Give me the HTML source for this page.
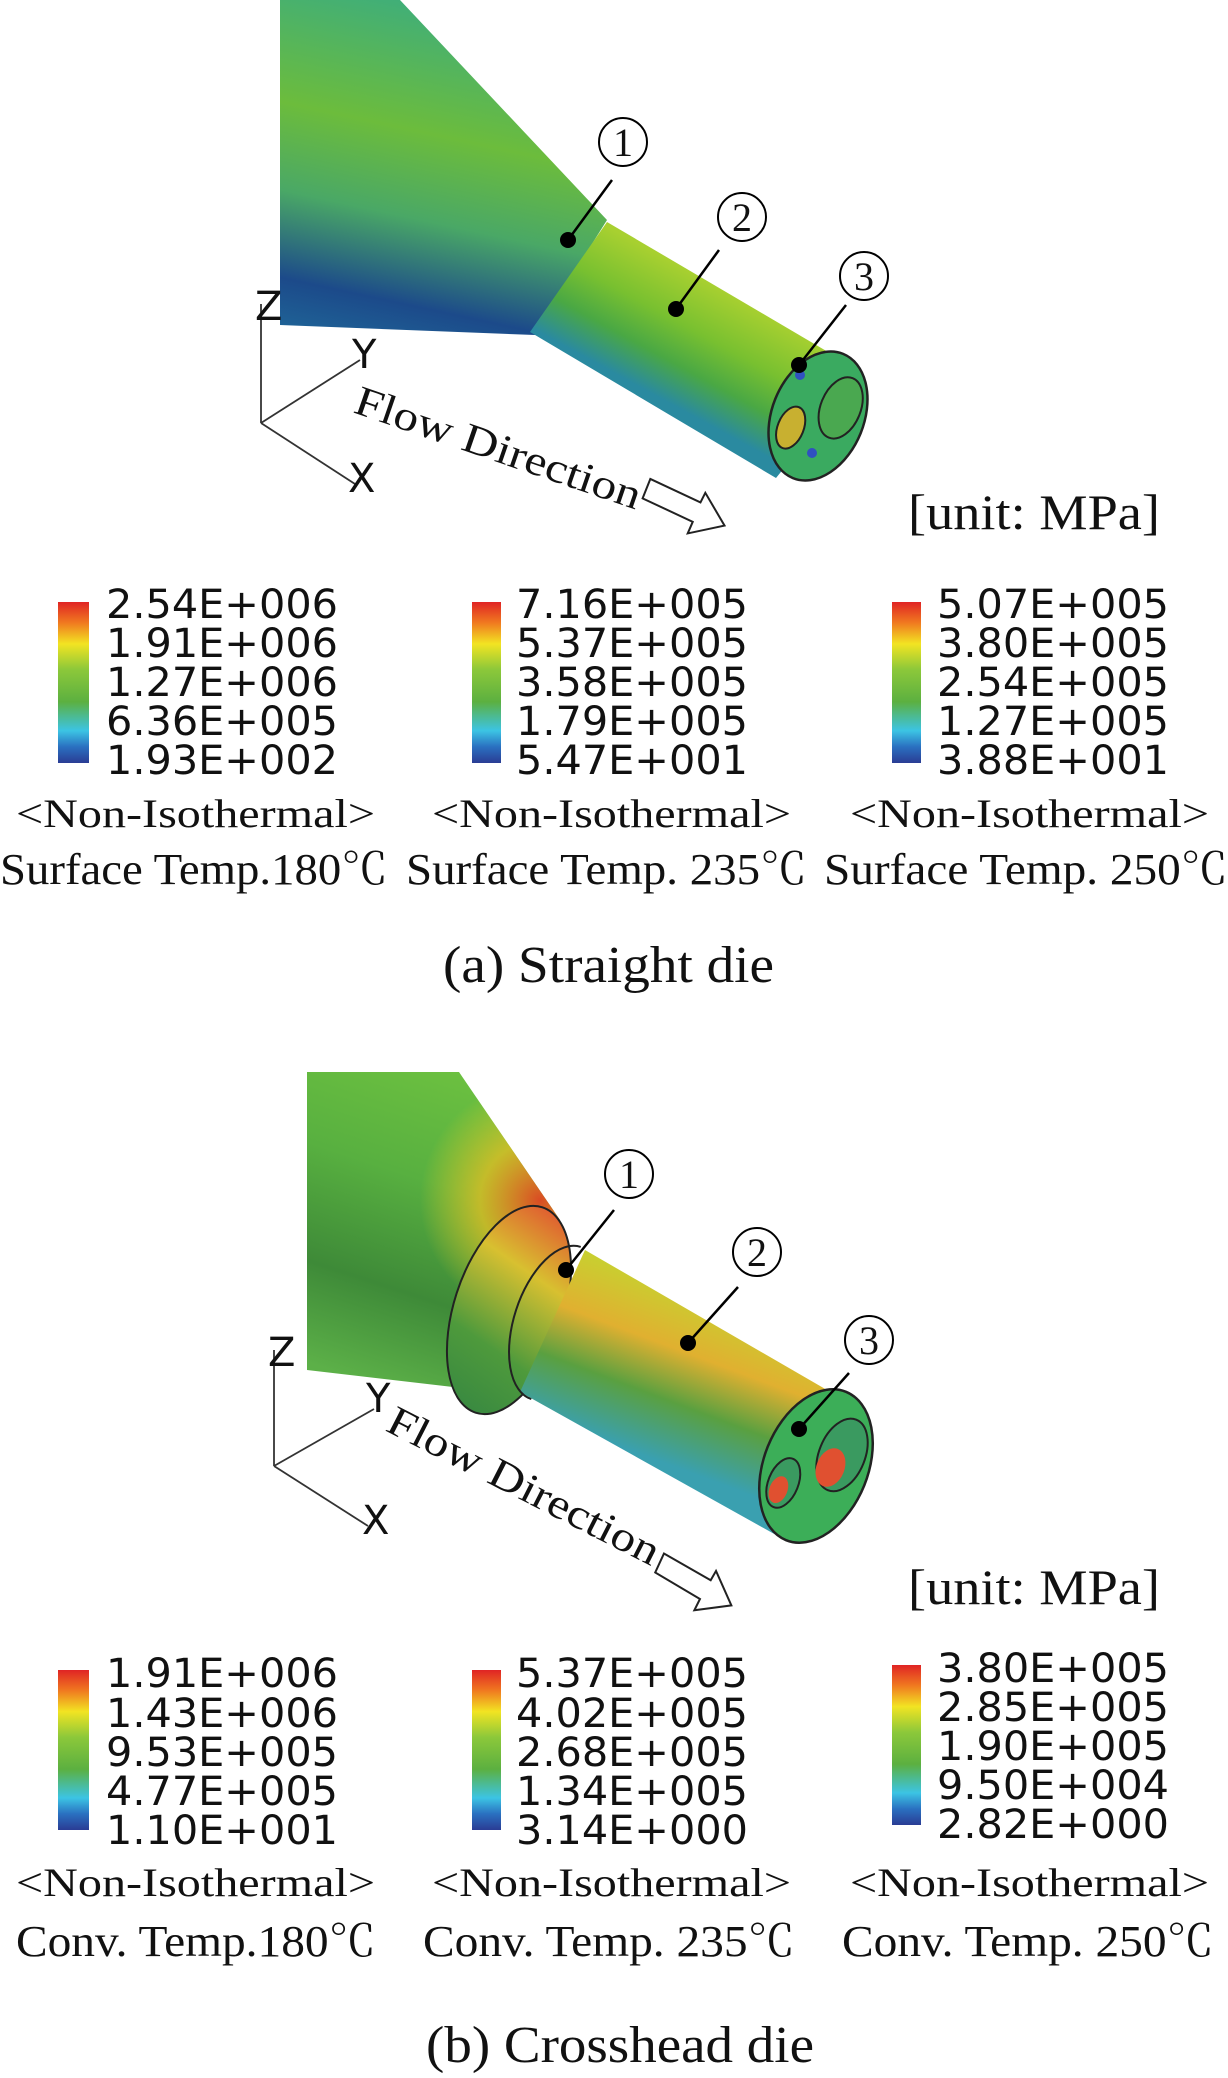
<!DOCTYPE html>
<html><head><meta charset="utf-8">
<style>
html,body{margin:0;padding:0;background:#fff;}
svg{display:block;}
.lg{font-family:"DejaVu Sans","Liberation Sans",sans-serif;font-size:40px;fill:#111;}
.sf{font-family:"Liberation Serif","Noto Serif CJK SC",serif;fill:#111;}
</style></head><body>
<svg width="1228" height="2078" viewBox="0 0 1228 2078" xmlns="http://www.w3.org/2000/svg">
<defs>
<linearGradient id="leg" x1="0" y1="0" x2="0" y2="1">
<stop offset="0" stop-color="#e02424"/><stop offset="0.13" stop-color="#f07a20"/>
<stop offset="0.26" stop-color="#f2e422"/><stop offset="0.42" stop-color="#8cc83a"/>
<stop offset="0.62" stop-color="#5cb040"/><stop offset="0.8" stop-color="#3cc4e4"/>
<stop offset="0.9" stop-color="#2a70c0"/><stop offset="1" stop-color="#2a3c94"/>
</linearGradient>
<linearGradient id="cone1" gradientUnits="userSpaceOnUse" x1="420" y1="0" x2="330" y2="420">
<stop offset="0" stop-color="#3fae7a"/><stop offset="0.3" stop-color="#6cbc3c"/>
<stop offset="0.5" stop-color="#4aa866"/><stop offset="0.7" stop-color="#1c4a8a"/>
<stop offset="0.85" stop-color="#1f6a9a"/><stop offset="1" stop-color="#2aa0a0"/>
</linearGradient>
<linearGradient id="tube1" gradientUnits="userSpaceOnUse" x1="650" y1="250" x2="590" y2="360">
<stop offset="0" stop-color="#a8d030"/><stop offset="0.4" stop-color="#78c030"/>
<stop offset="0.7" stop-color="#4aa844"/><stop offset="1" stop-color="#2a8aa0"/>
</linearGradient>
<linearGradient id="cone2" gradientUnits="userSpaceOnUse" x1="460" y1="1072" x2="360" y2="1380">
<stop offset="0" stop-color="#6cc040"/><stop offset="0.35" stop-color="#58b040"/>
<stop offset="0.7" stop-color="#3e8a38"/><stop offset="1" stop-color="#5cb048"/>
</linearGradient>
<radialGradient id="hot" gradientUnits="userSpaceOnUse" cx="540" cy="1200" r="120">
<stop offset="0" stop-color="#e84020" stop-opacity="0.9"/><stop offset="0.5" stop-color="#f0c020" stop-opacity="0.7"/>
<stop offset="1" stop-color="#f0d020" stop-opacity="0"/>
</radialGradient>
<linearGradient id="collar" gradientUnits="userSpaceOnUse" x1="540" y1="1210" x2="480" y2="1410">
<stop offset="0" stop-color="#e06030"/><stop offset="0.3" stop-color="#d8c030"/>
<stop offset="0.7" stop-color="#4e9a3c"/><stop offset="1" stop-color="#3a8a40"/>
</linearGradient>
<linearGradient id="tube2" gradientUnits="userSpaceOnUse" x1="690" y1="1290" x2="630" y2="1450">
<stop offset="0" stop-color="#c8d030"/><stop offset="0.35" stop-color="#e0b030"/>
<stop offset="0.65" stop-color="#5aa040"/><stop offset="1" stop-color="#3aa0b0"/>
</linearGradient>
</defs>

<!-- TOP FIGURE -->
<polygon points="280,0 400,0 607,220 535,335 280,325" fill="url(#cone1)"/>
<polygon points="607,222 862,372 776,478 530,332" fill="url(#tube1)"/>
<g transform="rotate(22 818 416)">
<ellipse cx="818" cy="416" rx="46" ry="67" fill="#3aaa60" stroke="#222" stroke-width="2.5"/>
<ellipse cx="836" cy="400" rx="20" ry="32" fill="#4aa850" stroke="#222" stroke-width="2"/>
<ellipse cx="797" cy="437" rx="13" ry="22" fill="#c8b030" stroke="#222" stroke-width="2"/>
</g>
<circle cx="800" cy="375" r="5" fill="#3050c0"/><circle cx="812" cy="453" r="5" fill="#3050c0"/>
<g stroke="#000" stroke-width="2.5">
<line x1="612" y1="180" x2="568" y2="240"/><line x1="719" y1="250" x2="676" y2="309"/><line x1="846" y1="305" x2="799" y2="365"/>
</g>
<circle cx="568" cy="240" r="8"/><circle cx="676" cy="309" r="8"/><circle cx="799" cy="365" r="8"/>
<g fill="#fff" stroke="#000" stroke-width="2">
<circle cx="623" cy="142" r="24"/><circle cx="742" cy="217" r="24"/><circle cx="864" cy="276" r="24"/>
</g>
<g class="sf" font-size="40" text-anchor="middle">
<text x="623" y="156">1</text><text x="742" y="231">2</text><text x="864" y="290">3</text>
</g>
<g stroke="#333" stroke-width="1.8" fill="none">
<line x1="261" y1="304" x2="261" y2="423"/><line x1="261" y1="423" x2="360" y2="360"/><line x1="261" y1="423" x2="355" y2="484"/>
</g>
<g class="lg" font-size="18" fill="#333"><text x="255" y="320">Z</text><text x="352" y="368">Y</text><text x="348" y="492">X</text></g>
<text class="sf" font-size="42" transform="translate(352,412) rotate(19)" textLength="300" lengthAdjust="spacingAndGlyphs">Flow Direction</text>
<polygon points="648,482 700,501 704,491 726,522 690,533 694,521 642,502" fill="#fff" stroke="#222" stroke-width="2" transform="rotate(5 684 507)"/>
<text class="sf" x="908" y="529" font-size="50" textLength="252" lengthAdjust="spacingAndGlyphs">[unit: MPa]</text>

<rect x="58" y="602" width="31" height="161" fill="url(#leg)"/>
<rect x="472" y="602" width="29" height="161" fill="url(#leg)"/>
<rect x="892" y="602" width="29" height="161" fill="url(#leg)"/>
<g class="lg">
<text x="106" y="618" textLength="232" lengthAdjust="spacingAndGlyphs">2.54E+006</text><text x="106" y="657" textLength="232" lengthAdjust="spacingAndGlyphs">1.91E+006</text><text x="106" y="696" textLength="232" lengthAdjust="spacingAndGlyphs">1.27E+006</text><text x="106" y="735" textLength="232" lengthAdjust="spacingAndGlyphs">6.36E+005</text><text x="106" y="774" textLength="232" lengthAdjust="spacingAndGlyphs">1.93E+002</text>
<text x="516" y="618" textLength="232" lengthAdjust="spacingAndGlyphs">7.16E+005</text><text x="516" y="657" textLength="232" lengthAdjust="spacingAndGlyphs">5.37E+005</text><text x="516" y="696" textLength="232" lengthAdjust="spacingAndGlyphs">3.58E+005</text><text x="516" y="735" textLength="232" lengthAdjust="spacingAndGlyphs">1.79E+005</text><text x="516" y="774" textLength="232" lengthAdjust="spacingAndGlyphs">5.47E+001</text>
<text x="937" y="618" textLength="232" lengthAdjust="spacingAndGlyphs">5.07E+005</text><text x="937" y="657" textLength="232" lengthAdjust="spacingAndGlyphs">3.80E+005</text><text x="937" y="696" textLength="232" lengthAdjust="spacingAndGlyphs">2.54E+005</text><text x="937" y="735" textLength="232" lengthAdjust="spacingAndGlyphs">1.27E+005</text><text x="937" y="774" textLength="232" lengthAdjust="spacingAndGlyphs">3.88E+001</text>
</g>
<g class="sf" font-size="40">
<text x="16" y="827" textLength="359" lengthAdjust="spacingAndGlyphs">&lt;Non-Isothermal&gt;</text>
<text x="432" y="827" textLength="359" lengthAdjust="spacingAndGlyphs">&lt;Non-Isothermal&gt;</text>
<text x="850" y="827" textLength="359" lengthAdjust="spacingAndGlyphs">&lt;Non-Isothermal&gt;</text>
<text x="0" y="884" font-size="44" textLength="388" lengthAdjust="spacingAndGlyphs">Surface Temp.180℃</text>
<text x="406" y="884" font-size="44" textLength="401" lengthAdjust="spacingAndGlyphs">Surface Temp. 235℃</text>
<text x="824" y="884" font-size="44" textLength="404" lengthAdjust="spacingAndGlyphs">Surface Temp. 250℃</text>
<text x="443" y="982" font-size="52" textLength="331" lengthAdjust="spacingAndGlyphs">(a) Straight die</text>
</g>

<!-- BOTTOM FIGURE -->
<polygon points="307,1072 459,1072 560,1220 496,1392 307,1370" fill="url(#cone2)"/>
<polygon points="307,1072 459,1072 560,1220 496,1392 307,1370" fill="url(#hot)"/>
<g transform="rotate(18 509 1310)"><ellipse cx="509" cy="1310" rx="55" ry="108" fill="url(#collar)" stroke="#222" stroke-width="2"/></g>
<polygon points="585,1250 865,1412 785,1540 520,1392" fill="url(#tube2)"/>
<g transform="rotate(18 556 1323)"><path d="M556,1243 A42,80 0 0 0 556,1403" fill="none" stroke="#222" stroke-width="2"/></g>
<g transform="rotate(22 816 1466)">
<ellipse cx="816" cy="1466" rx="52" ry="80" fill="#3cae58" stroke="#222" stroke-width="2.5"/>
<ellipse cx="836" cy="1446" rx="23" ry="38" fill="#3a9a60" stroke="#222" stroke-width="2"/>
<ellipse cx="792" cy="1494" rx="15" ry="26" fill="#3a9a60" stroke="#222" stroke-width="2"/>
<ellipse cx="830" cy="1462" rx="14" ry="20" fill="#e05030"/>
<ellipse cx="790" cy="1502" rx="9" ry="14" fill="#e05030"/>
</g>
<g stroke="#000" stroke-width="2.5">
<line x1="614" y1="1210" x2="566" y2="1270"/><line x1="738" y1="1287" x2="688" y2="1343"/><line x1="849" y1="1373" x2="799" y2="1429"/>
</g>
<circle cx="566" cy="1270" r="8"/><circle cx="688" cy="1343" r="8"/><circle cx="799" cy="1429" r="8"/>
<g fill="#fff" stroke="#000" stroke-width="2">
<circle cx="629" cy="1174" r="24"/><circle cx="757" cy="1252" r="24"/><circle cx="869" cy="1340" r="24"/>
</g>
<g class="sf" font-size="40" text-anchor="middle">
<text x="629" y="1188">1</text><text x="757" y="1266">2</text><text x="869" y="1354">3</text>
</g>
<g stroke="#333" stroke-width="1.8" fill="none">
<line x1="274" y1="1350" x2="274" y2="1466"/><line x1="274" y1="1466" x2="374" y2="1409"/><line x1="274" y1="1466" x2="368" y2="1526"/>
</g>
<g class="lg" font-size="18" fill="#333"><text x="268" y="1366">Z</text><text x="366" y="1412">Y</text><text x="362" y="1534">X</text></g>
<text class="sf" font-size="42" transform="translate(384,1430) rotate(27)" textLength="300" lengthAdjust="spacingAndGlyphs">Flow Direction</text>
<polygon points="660,1558 710,1578 714,1568 734,1600 698,1610 702,1598 654,1578" fill="#fff" stroke="#222" stroke-width="2" transform="rotate(8 694 1584)"/>
<text class="sf" x="908" y="1604" font-size="50" textLength="252" lengthAdjust="spacingAndGlyphs">[unit: MPa]</text>

<rect x="58" y="1670" width="31" height="160" fill="url(#leg)"/>
<rect x="472" y="1670" width="29" height="160" fill="url(#leg)"/>
<rect x="892" y="1665" width="29" height="160" fill="url(#leg)"/>
<g class="lg">
<text x="106" y="1687" textLength="232" lengthAdjust="spacingAndGlyphs">1.91E+006</text><text x="106" y="1727" textLength="232" lengthAdjust="spacingAndGlyphs">1.43E+006</text><text x="106" y="1766" textLength="232" lengthAdjust="spacingAndGlyphs">9.53E+005</text><text x="106" y="1805" textLength="232" lengthAdjust="spacingAndGlyphs">4.77E+005</text><text x="106" y="1844" textLength="232" lengthAdjust="spacingAndGlyphs">1.10E+001</text>
<text x="516" y="1687" textLength="232" lengthAdjust="spacingAndGlyphs">5.37E+005</text><text x="516" y="1727" textLength="232" lengthAdjust="spacingAndGlyphs">4.02E+005</text><text x="516" y="1766" textLength="232" lengthAdjust="spacingAndGlyphs">2.68E+005</text><text x="516" y="1805" textLength="232" lengthAdjust="spacingAndGlyphs">1.34E+005</text><text x="516" y="1844" textLength="232" lengthAdjust="spacingAndGlyphs">3.14E+000</text>
<text x="937" y="1682" textLength="232" lengthAdjust="spacingAndGlyphs">3.80E+005</text><text x="937" y="1721" textLength="232" lengthAdjust="spacingAndGlyphs">2.85E+005</text><text x="937" y="1760" textLength="232" lengthAdjust="spacingAndGlyphs">1.90E+005</text><text x="937" y="1799" textLength="232" lengthAdjust="spacingAndGlyphs">9.50E+004</text><text x="937" y="1838" textLength="232" lengthAdjust="spacingAndGlyphs">2.82E+000</text>
</g>
<g class="sf" font-size="40">
<text x="16" y="1896" textLength="359" lengthAdjust="spacingAndGlyphs">&lt;Non-Isothermal&gt;</text>
<text x="432" y="1896" textLength="359" lengthAdjust="spacingAndGlyphs">&lt;Non-Isothermal&gt;</text>
<text x="850" y="1896" textLength="359" lengthAdjust="spacingAndGlyphs">&lt;Non-Isothermal&gt;</text>
<text x="16" y="1956" font-size="44" textLength="360" lengthAdjust="spacingAndGlyphs">Conv. Temp.180℃</text>
<text x="423" y="1956" font-size="44" textLength="372" lengthAdjust="spacingAndGlyphs">Conv. Temp. 235℃</text>
<text x="842" y="1956" font-size="44" textLength="372" lengthAdjust="spacingAndGlyphs">Conv. Temp. 250℃</text>
<text x="426" y="2062" font-size="52" textLength="388" lengthAdjust="spacingAndGlyphs">(b) Crosshead die</text>
</g>
</svg>
</body></html>
